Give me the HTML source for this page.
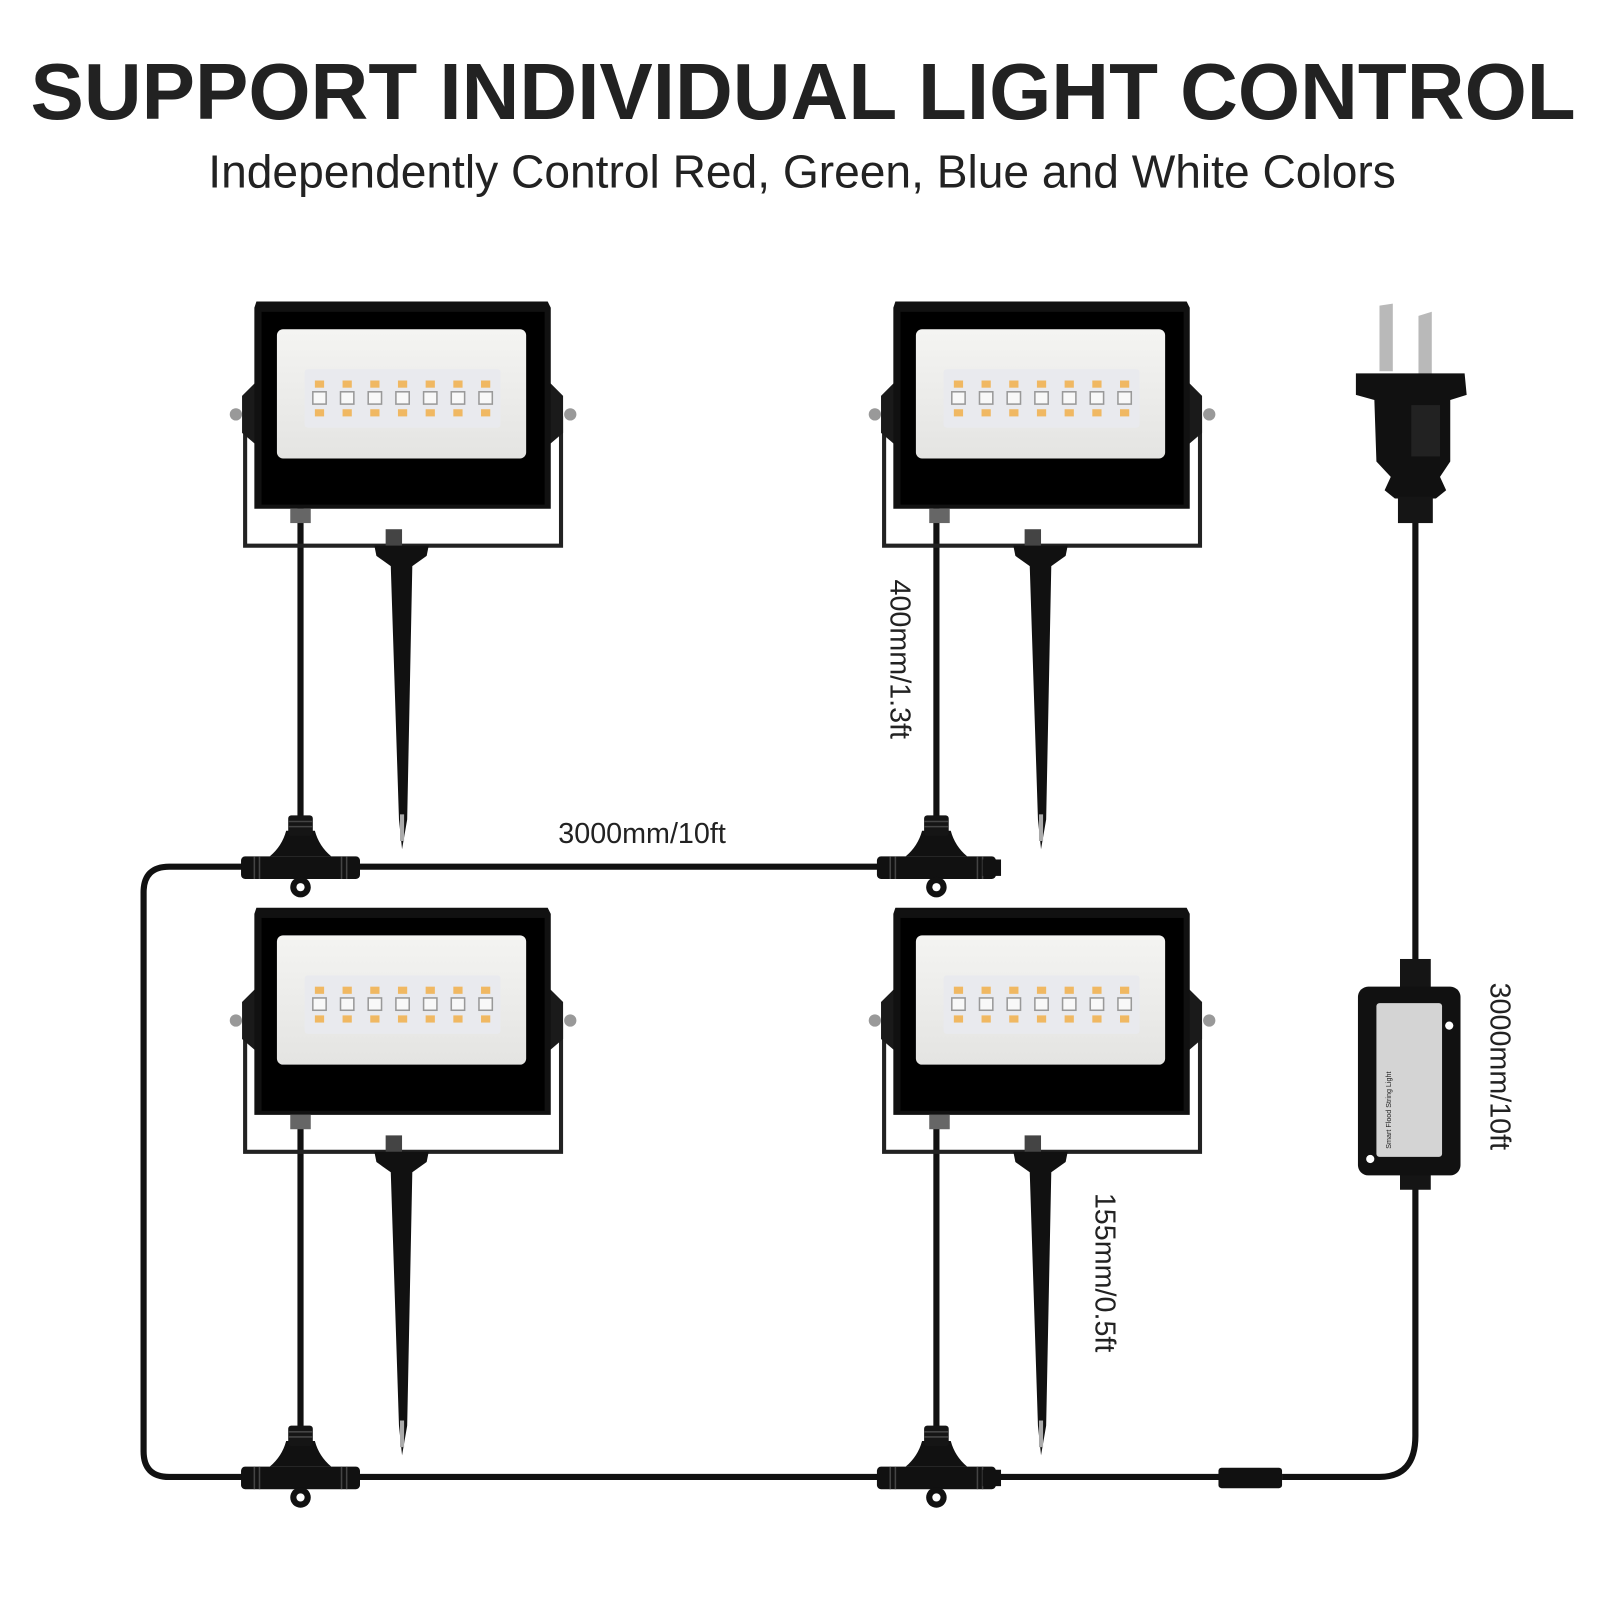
<!DOCTYPE html>
<html><head><meta charset="utf-8"><style>
html,body{margin:0;padding:0;background:#fff;}
svg{display:block;}
</style></head><body>
<svg width="1600" height="1600" viewBox="0 0 1560 1560" xmlns="http://www.w3.org/2000/svg">
<defs>
<linearGradient id="pan" x1="0" y1="0" x2="0" y2="1"><stop offset="0" stop-color="#f4f4f2"/><stop offset="1" stop-color="#e4e4e2"/></linearGradient>
<g id="light">
 <!-- bracket -->
 <path d="M-11 112 L-11 238 L297 238 L297 112" fill="none" stroke="#222" stroke-width="4"/>
 <path d="M0 78 L-14 92 L-14 128 L0 140 Z M285 78 L299 92 L299 128 L285 140 Z" fill="#1a1a1a"/>
 <circle cx="-20" cy="110" r="6" fill="#999"/><circle cx="306" cy="110" r="6" fill="#999"/>
 <!-- body -->
 <path d="M0 0 L284 0 L287 6 L287 202 L-2 202 L-2 6 Z" fill="#111"/>
 <rect x="5" y="10" width="276" height="188" fill="#000"/>
 <rect x="20" y="27" width="243" height="126" rx="6" fill="url(#pan)"/>
 <rect x="47" y="66" width="191" height="57" rx="3" fill="#e9eaee"/>
 <g fill="#f0b862">
  <rect x="57" y="77" width="9" height="7"/><rect x="84" y="77" width="9" height="7"/><rect x="111" y="77" width="9" height="7"/><rect x="138" y="77" width="9" height="7"/><rect x="165" y="77" width="9" height="7"/><rect x="192" y="77" width="9" height="7"/><rect x="219" y="77" width="9" height="7"/>
  <rect x="57" y="105" width="9" height="7"/><rect x="84" y="105" width="9" height="7"/><rect x="111" y="105" width="9" height="7"/><rect x="138" y="105" width="9" height="7"/><rect x="165" y="105" width="9" height="7"/><rect x="192" y="105" width="9" height="7"/><rect x="219" y="105" width="9" height="7"/>
 </g>
 <g fill="#f8f8f8" stroke="#999" stroke-width="1.5">
  <rect x="55" y="88" width="13" height="12"/><rect x="82" y="88" width="13" height="12"/><rect x="109" y="88" width="13" height="12"/><rect x="136" y="88" width="13" height="12"/><rect x="163" y="88" width="13" height="12"/><rect x="190" y="88" width="13" height="12"/><rect x="217" y="88" width="13" height="12"/>
 </g>
 <!-- gland -->
 <rect x="33" y="202" width="20" height="14" fill="#666"/>
 <!-- spike -->
 <rect x="126" y="222" width="16" height="20" fill="#444"/>
 <path d="M115 238 L168 238 L166 248 L152 258 L147 505 L142 534 L139 505 L131 258 L117 248 Z" fill="#111"/>
 <rect x="140" y="500" width="4" height="26" fill="#aaa"/>
</g>
<g id="tee">
 <rect x="-58" y="-10" width="116" height="22" rx="4" fill="#111"/>
 <path d="M-30 -10 Q-18 -20 -14 -35 L14 -35 Q18 -20 30 -10 Z" fill="#111"/>
 <rect x="-12" y="-50" width="24" height="20" rx="3" fill="#151515"/>
 <g stroke="#444" stroke-width="1.5"><line x1="-45" y1="-10" x2="-45" y2="12"/><line x1="-40" y1="-10" x2="-40" y2="12"/><line x1="40" y1="-10" x2="40" y2="12"/><line x1="45" y1="-10" x2="45" y2="12"/><line x1="-12" y1="-44" x2="12" y2="-44"/><line x1="-12" y1="-39" x2="12" y2="-39"/></g>
 <circle cx="0" cy="20" r="10" fill="#111"/><circle cx="0" cy="20" r="4" fill="#fff"/>
</g>
</defs>

<text x="783" y="116" text-anchor="middle" font-family="Liberation Sans, sans-serif" font-weight="bold" font-size="78" fill="#222">SUPPORT INDIVIDUAL LIGHT CONTROL</text>
<text x="782" y="183" text-anchor="middle" font-family="Liberation Sans, sans-serif" font-size="45" fill="#222">Independently Control Red, Green, Blue and White Colors</text>

<!-- cables -->
<g fill="none" stroke="#111" stroke-width="6">
 <line x1="293" y1="496" x2="293" y2="800"/>
 <line x1="913" y1="496" x2="913" y2="800"/>
 <line x1="293" y1="1088" x2="293" y2="1400"/>
 <line x1="913" y1="1088" x2="913" y2="1400"/>
 <path d="M240 845 L165 845 Q140 845 140 870 L140 1415 Q140 1440 165 1440 L1250 1440"/>
 <line x1="350" y1="845" x2="970" y2="845"/>
 <path d="M1250 1440 L1345 1440 Q1380 1440 1380 1400 L1380 1150"/>
 <line x1="1380" y1="965" x2="1380" y2="500"/>
</g>

<use href="#light" x="250" y="294"/>
<use href="#light" x="873" y="294"/>
<use href="#light" x="250" y="885"/>
<use href="#light" x="873" y="885"/>

<use href="#tee" x="293" y="845"/>
<use href="#tee" x="913" y="845"/>
<use href="#tee" x="293" y="1440"/>
<use href="#tee" x="913" y="1440"/>
<rect x="958" y="838" width="18" height="16" fill="#111"/>
<rect x="958" y="1433" width="18" height="16" fill="#111"/>
<rect x="1188" y="1431" width="62" height="20" rx="3" fill="#111"/>

<!-- plug -->
<path d="M1345 298 L1358 296 L1358 362 L1345 362 Z" fill="#b9b9b9"/>
<path d="M1383 308 L1396 304 L1396 366 L1383 366 Z" fill="#b9b9b9"/>
<path d="M1322 364 L1428 364 L1430 385 L1414 390 L1414 450 L1404 465 L1410 478 L1400 486 L1360 486 L1350 478 L1356 465 L1342 450 L1340 390 L1322 385 Z" fill="#111"/>
<rect x="1376" y="395" width="28" height="50" fill="#222"/>
<rect x="1363" y="484" width="34" height="26" fill="#151515"/>
<!-- controller -->
<rect x="1365" y="935" width="30" height="30" fill="#151515"/>
<rect x="1365" y="1140" width="30" height="20" fill="#151515"/>
<rect x="1324" y="962" width="100" height="184" rx="10" fill="#111"/>
<rect x="1342" y="978" width="64" height="150" rx="3" fill="#d4d4d4"/>
<circle cx="1413" cy="1000" r="4" fill="#fff"/><circle cx="1336" cy="1130" r="4" fill="#fff"/>
<text transform="translate(1356,1120) rotate(-90)" font-family="Liberation Sans, sans-serif" font-size="7" fill="#222">Smart Flood String Light</text>

<g font-family="Liberation Sans, sans-serif" font-size="28" fill="#222">
 <text x="626" y="822" text-anchor="middle">3000mm/10ft</text>
 <text transform="translate(868,565) rotate(90)">400mm/1.3ft</text>
 <text transform="translate(1068,1163) rotate(90)">155mm/0.5ft</text>
 <text transform="translate(1453,958) rotate(90)">3000mm/10ft</text>
</g>
</svg>
</body></html>
